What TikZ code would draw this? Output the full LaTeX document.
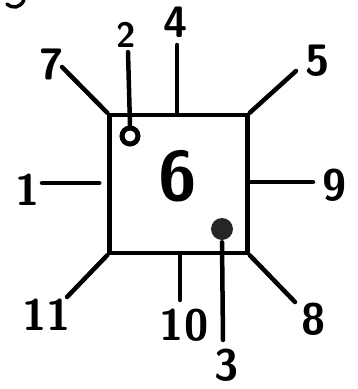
\documentclass[tikz,border=0pt]{standalone}
\usepackage{tikz}
\usetikzlibrary{positioning}

\begin{document}
\begin{tikzpicture}[x=1pt,y=-1pt,line width=4.5pt,line cap=round,
  num/.style={inner sep=0pt,font=\fontsize{44}{44}\selectfont\sffamily\bfseries},
  big/.style={inner sep=0pt,font=\fontsize{70}{70}\selectfont\sffamily\bfseries}]
\useasboundingbox (0,0) rectangle (357,389);
% the box with its two marks
\node[draw,minimum width=138pt,minimum height=138pt,inner sep=0pt] (sq) at (178.5,184) {};
\node[big] (six) at (178,176) {6};
\node[circle,draw,line width=5pt,minimum size=16pt,inner sep=0pt] (hole) at (130,136) {};
\node[circle,fill=black!85,minimum size=22pt,inner sep=0pt] (dot) at (222,229) {};
% free ends of the strokes
\coordinate (e7) at (62,67); \coordinate (e2) at (128,52); \coordinate (e4) at (177,45);
\coordinate (e5) at (296,71); \coordinate (e1) at (42,183); \coordinate (e9) at (313,182);
\coordinate (e11) at (67,297); \coordinate (e10) at (180,300); \coordinate (e3) at (223,340);
\coordinate (e8) at (295,302);
\draw (sq.north west)--(e7);
\draw (hole.north)--(e2);
\draw (e4 |- sq.north)--(e4);
\draw (sq.north east)--(e5);
\draw[shorten <=8pt] (sq.west |- e1)--(e1);
\draw (sq.east |- e9)--(e9);
\draw (sq.south west)--(e11);
\draw (e10 |- sq.south)--(e10);
\draw (dot.south)--(e3);
\draw (sq.south east)--(e8);
% labels
\node[num] (n7) at (52,64) {7};
\node[num,scale=0.8] (n2) at (126,35) {2};
\node[num] (n4) at (176,22) {4};
\node[num] (n5) at (318,61) {5};
\node[num] (n1) at (28,190) {1};
\node[num] (n9) at (335,185) {9};
\node[num] (n11) at (47,315) {11};
\node[num] (n10) at (184,325) {10};
\node[num] (n3) at (227,365) {3};
\node[num] (n8) at (314,319) {8};
\draw[line width=3.5pt] (7,4) .. controls (13,9) and (20,8) .. (24,0);
\end{tikzpicture}
\end{document}
